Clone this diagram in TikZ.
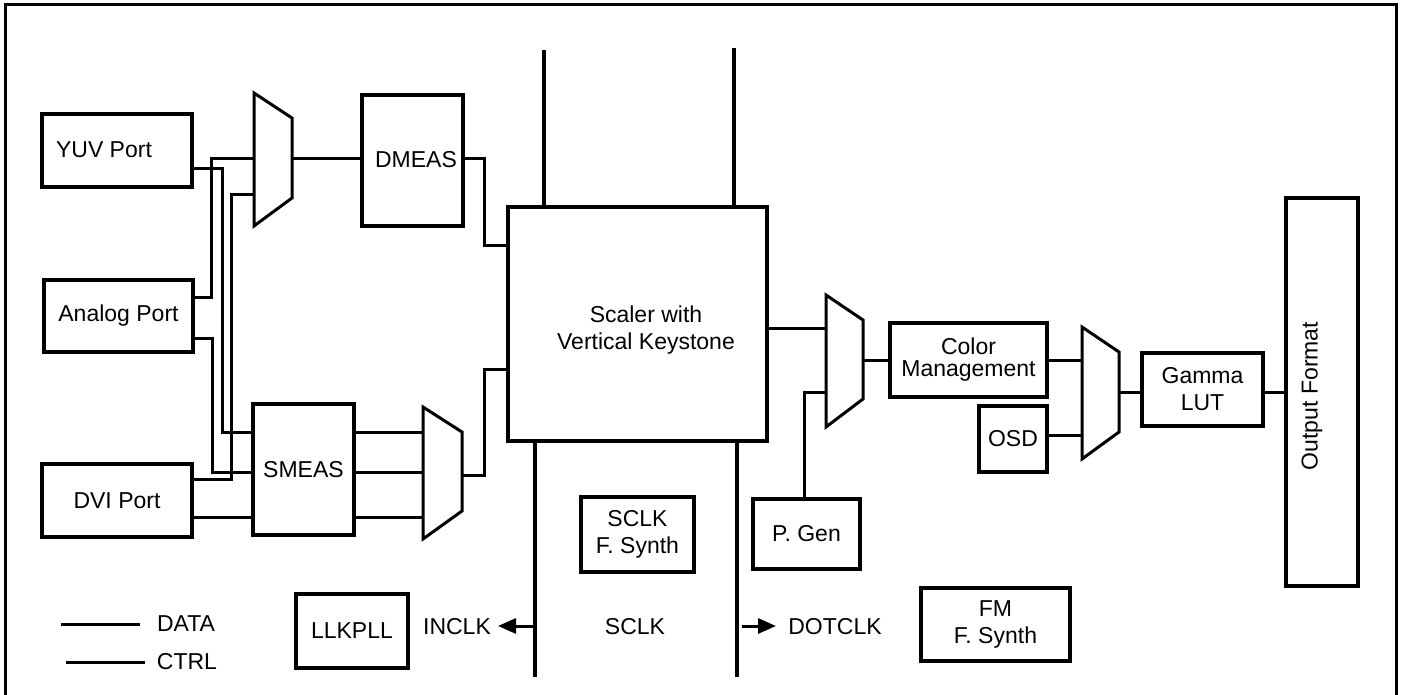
\documentclass[tikz,border=0pt]{standalone}
\usepackage{fontspec}
\setmainfont{Liberation Sans}
\usetikzlibrary{arrows.meta}
\begin{document}
\begin{tikzpicture}[x=1pt,y=-1pt,
  blk/.style={draw, line width=3.2pt, anchor=north west, inner sep=0pt, outer sep=0pt, align=center, font=\fontsize{23}{27}\selectfont},
  txt/.style={inner sep=0pt, outer sep=0pt, align=center, font=\fontsize{23}{27}\selectfont},
  conn/.style={draw, line width=3pt},
  rail/.style={draw, line width=3.2pt},
  muxs/.style={draw, line width=3pt, line join=miter},
  frame/.style={draw, line width=3pt},
  tip/.style={-{Triangle[length=18pt,width=15pt]}}]
\useasboundingbox (0,0) rectangle (1401,695);
% frame
\path[frame] (5,700) -- (5,5) -- (1396,5) -- (1396,700);
% boxes
\node[blk, minimum width=150pt, minimum height=73pt] (yuv) at (42,114) {};
\node[txt] (yuvt) at (104,150) {YUV Port};
\node[blk, minimum width=149pt, minimum height=72pt] (analog) at (44,280) {Analog Port};
\node[blk, minimum width=150pt, minimum height=73pt] (dvi) at (42,464) {DVI Port};
\node[blk, minimum width=101pt, minimum height=131pt] (dmeas) at (362,95) {};
\node[txt] (dmeast) at (416,160) {DMEAS};
\node[blk, minimum width=101pt, minimum height=131pt] (smeas) at (253,404) {SMEAS};
\node[blk, minimum width=259pt, minimum height=234pt] (scaler) at (508,207) {};
\node[txt] (scalert) at (646,330) {Scaler with\\Vertical Keystone};
\node[blk, minimum width=107pt, minimum height=70pt] (pgen) at (753,499) {P. Gen};
\node[blk, minimum width=113pt, minimum height=75pt] (sclkfs) at (581,497) {SCLK\\F. Synth};
\node[blk, minimum width=157pt, minimum height=74pt, font=\fontsize{23}{22}\selectfont] (cm) at (890,323) {Color\\Management};
\node[blk, minimum width=68pt, minimum height=66pt] (osd) at (979,406) {OSD};
\node[blk, minimum width=121pt, minimum height=73pt] (gamma) at (1142,353) {Gamma\\LUT};
\node[blk, minimum width=72pt, minimum height=388pt] (outfmt) at (1286,198) {};
\node[txt, rotate=90] (outfmtt) at (1312,396) {Output Format};
\node[blk, minimum width=112pt, minimum height=74pt] (llkpll) at (296,594) {LLKPLL};
\node[blk, minimum width=149pt, minimum height=73pt] (fm) at (921,588) {FM\\F. Synth};
% muxes
\path[muxs] (254,93) -- (292,118) -- (292,198) -- (254,226) -- cycle;
\coordinate (m1a) at (254,159); \coordinate (m1b) at (254,195); \coordinate (m1o) at (292,159);
\path[muxs] (423,407) -- (462,432) -- (462,511) -- (423,539) -- cycle;
\coordinate (m2a) at (423,432); \coordinate (m2b) at (423,472); \coordinate (m2c) at (423,517); \coordinate (m2o) at (462,475);
\path[muxs] (826,295) -- (863,320) -- (863,399) -- (826,427) -- cycle;
\coordinate (m3a) at (826,328); \coordinate (m3b) at (826,392); \coordinate (m3o) at (863,360);
\path[muxs] (1082,327) -- (1119,352) -- (1119,432) -- (1082,459) -- cycle;
\coordinate (m4a) at (1082,360); \coordinate (m4b) at (1082,435); \coordinate (m4o) at (1119,392);
% input side wiring
\path[conn] (analog.east |- 0,298) -| (211,159) -- (m1a);
\path[conn] (yuv.east |- 0,169) -| (222,432) -- (smeas.west |- 0,432);
\path[conn] (dvi.east |- 0,479) -| (231,195) -- (m1b);
\path[conn] (analog.east |- 0,338) -| (212,472) -- (smeas.west |- 0,472);
\path[conn] (dvi.east |- 0,517) -- (smeas.west |- 0,517);
\path[conn] (m1o) -- (dmeas.west |- m1o);
\path[conn] (dmeas.east |- 0,159) -| (484,246) -- (scaler.west |- 0,246);
\path[conn] (smeas.east |- m2a) -- (m2a);
\path[conn] (smeas.east |- m2b) -- (m2b);
\path[conn] (smeas.east |- m2c) -- (m2c);
\path[conn] (m2o) -| (484,369) -- (scaler.west |- 0,369);
% output side wiring
\path[conn] (scaler.east |- m3a) -- (m3a);
\path[conn] (pgen.north -| 804,0) |- (m3b);
\path[conn] (m3o) -- (cm.west |- m3o);
\path[conn] (cm.east |- m4a) -- (m4a);
\path[conn] (osd.east |- m4b) -- (m4b);
\path[conn] (m4o) -- (gamma.west |- m4o);
\path[conn] (gamma.east |- m4o) -- (outfmt.west |- m4o);
% clock rails
\coordinate (t1) at (544,50); \coordinate (t2) at (734,48);
\coordinate (b1) at (535,677); \coordinate (b2) at (737,677);
\path[rail] (scaler.north -| t1) -- (t1);
\path[rail] (scaler.north -| t2) -- (t2);
\path[rail] (scaler.south -| b1) -- (b1);
\path[rail] (scaler.south -| b2) -- (b2);
% clock labels
\node[txt] (inclk) at (457,627) {INCLK};
\node[txt] (sclk) at (635,627) {SCLK};
\node[txt] (dotclk) at (835,627) {DOTCLK};
\coordinate (ia) at (533,626); \coordinate (ib) at (498,626);
\path[conn, tip] (ia) -- (ib);
\coordinate (da) at (742,626); \coordinate (db) at (776,626);
\path[conn, tip] (da) -- (db);
% legend
\coordinate (l1a) at (61,624); \coordinate (l1b) at (140,624);
\coordinate (l2a) at (66,662); \coordinate (l2b) at (145,662);
\path[conn] (l1a) -- (l1b);
\path[conn] (l2a) -- (l2b);
\node[txt] (data) at (186,624) {DATA};
\node[txt] (ctrl) at (187,662) {CTRL};
\end{tikzpicture}
\end{document}
